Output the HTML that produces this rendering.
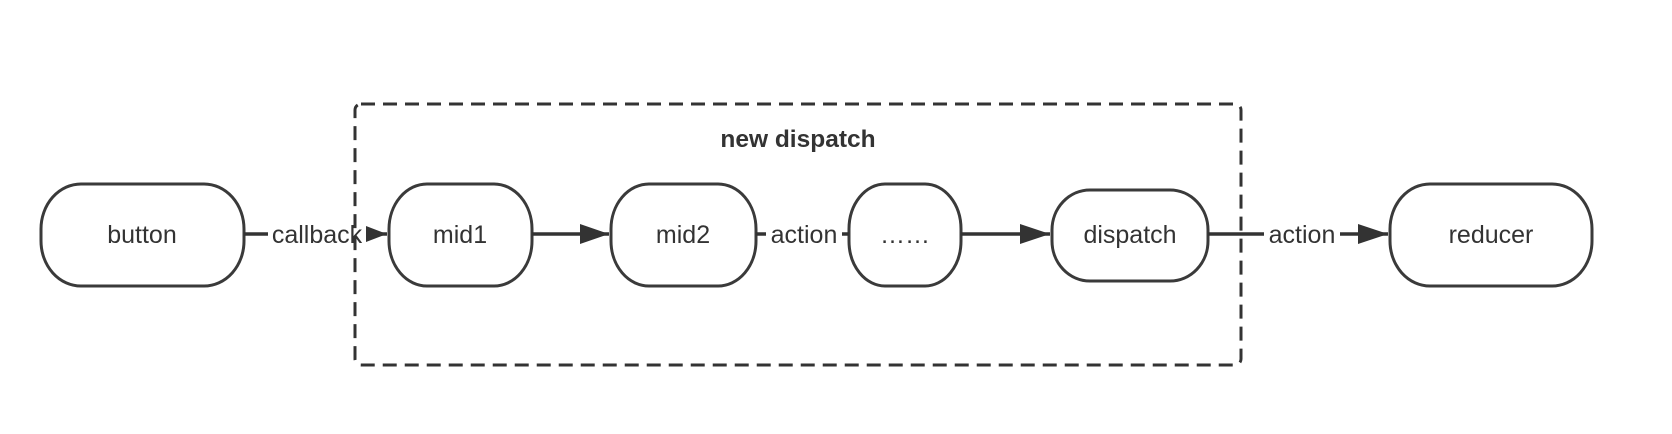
<!DOCTYPE html>
<html><head><meta charset="utf-8"><style>
html,body{margin:0;padding:0;background:#fff;}
svg{display:block;}
text{font-family:"Liberation Sans","Noto Sans CJK SC",sans-serif;fill:#333;}
</style></head><body>
<svg width="1672" height="434" viewBox="0 0 1672 434" xmlns="http://www.w3.org/2000/svg">
<rect x="355" y="104" width="886" height="261" rx="6" fill="none" stroke="#333" stroke-width="3" stroke-dasharray="14,8"/>
<text x="798" y="147" font-size="24.5" font-weight="bold" text-anchor="middle">new dispatch</text>
<g fill="#fff" stroke="#3a3a3a" stroke-width="3">
<rect x="41" y="184" width="203" height="102" rx="40" ry="45"/>
<rect x="389" y="184" width="143" height="102" rx="38" ry="45"/>
<rect x="611" y="184" width="145" height="102" rx="38" ry="45"/>
<rect x="849" y="184" width="112" height="102" rx="36" ry="45"/>
<rect x="1052" y="190" width="156" height="91" rx="38" ry="40"/>
<rect x="1390" y="184" width="202" height="102" rx="40" ry="45"/>
</g>
<g stroke="#333" stroke-width="3.5" fill="none">
<line x1="244" y1="234" x2="268" y2="234"/>
<line x1="366" y1="234" x2="387" y2="234"/>
<line x1="532" y1="234" x2="609" y2="234"/>
<line x1="756" y1="234" x2="766" y2="234"/>
<line x1="842" y1="234" x2="849" y2="234"/>
<line x1="961" y1="234" x2="1050" y2="234"/>
<line x1="1208" y1="234" x2="1264" y2="234"/>
<line x1="1340" y1="234" x2="1388" y2="234"/>
</g>
<g fill="#333">
<path d="M366,226 L387,234 L366,242 z"/>
<path d="M580,224 L609,234 L580,244 z"/>
<path d="M1020,224 L1050,234 L1020,244 z"/>
<path d="M1358,224 L1388,234 L1358,244 z"/>
</g>
<g font-size="25" text-anchor="middle">
<text x="142" y="243">button</text>
<text x="317" y="243">callback</text>
<text x="460" y="243">mid1</text>
<text x="683" y="243">mid2</text>
<text x="804" y="243">action</text>
<text x="905" y="243">……</text>
<text x="1130" y="243">dispatch</text>
<text x="1302" y="243">action</text>
<text x="1491" y="243">reducer</text>
</g>
</svg>
</body></html>
